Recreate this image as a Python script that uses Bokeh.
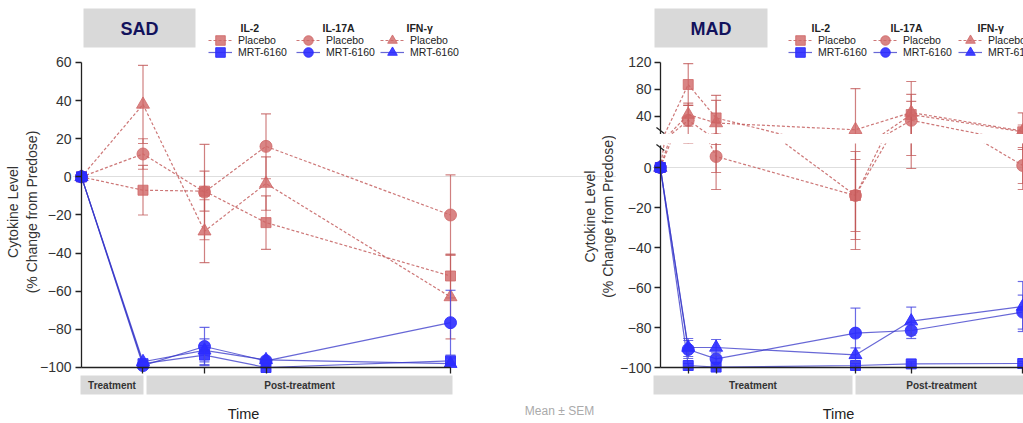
from bokeh.plotting import figure
from bokeh.layouts import row, column
from bokeh.models import (FixedTicker, LinearAxis, Range1d, BoxAnnotation, Label,
                          Legend, LegendItem, Arrow, Grid, CustomJSTickFormatter)
from bokeh.embed import file_html
from bokeh.resources import INLINE
import math

# ---------------- data ----------------
sad_days = [0, 1, 2, 3, 6]
sad_ticks = [1, 2, 3, 6]
sad_il2_pbo = [0, -7, -7.5, -24, -52]
sad_il2_pbo_sem = [0, 13, 10.5, 14, 11.5]
sad_il17a_pbo = [0, 12, -8, 16, -20]
sad_il17a_pbo_sem = [0, 8, 25, 17, 21]
sad_ifng_pbo = [0, 38, -28.5, -3.5, -63]
sad_ifng_pbo_sem = [0, 20.5, 16.5, 14, 22]
sad_il2_mrt = [0, -98, -93.5, -100, -96.5]
sad_il2_mrt_sem = [0, 1, 5, 0.5, 1.5]
sad_il17a_mrt = [0, -99, -89, -96.5, -76.5]
sad_il17a_mrt_sem = [0, 1, 10, 1.5, 17]
sad_ifng_mrt = [0, -97, -91, -96, -98]
sad_ifng_mrt_sem = [0, 1, 6, 1, 1]

mad_days = [0, 1, 2, 7, 9, 13]
mad_ticks = [1, 2, 7, 9, 13]
mad_il2_pbo = [0, 87, 37.5, -14, 42.5, 17]
mad_il2_pbo_sem = [0, 31, 26, 22, 30, 28]
mad_il17a_pbo = [0, 34, 5.5, -14, 34, 1]
mad_il17a_pbo_sem = [0, 22, 8, 18, 28, 9]
mad_ifng_pbo = [0, 42.5, 30, 20, 45.5, 18]
mad_ifng_pbo_sem = [0, 17, 41, 61, 46, 9]
mad_il2_mrt = [0, -99, -99.8, -99, -98.2, -98]
mad_il2_mrt_sem = [0, 1, 0.5, 1, 1, 1]
mad_il17a_mrt = [0, -91, -95.7, -82.8, -81.5, -72.3]
mad_il17a_mrt_sem = [0, 4.5, 3, 12.5, 4, 8.5]
mad_ifng_mrt = [0, -90, -90, -93.7, -76.8, -69.5]
mad_ifng_mrt_sem = [0, 4.5, 4, 3.5, 7, 12.5]

sad_y_ticks = [-100, -80, -60, -40, -20, 0, 20, 40, 60]
mad_low_ticks = [-100, -80, -60, -40, -20, 0]
mad_up_ticks = [40, 80, 120]

cytokines = ["IL-2", "IL-17A", "IFN-γ"]
groups = ["Placebo", "MRT-6160"]
markers = ["square", "circle", "triangle"]
marker_sizes = [10, 12, 13]

FONT = "Liberation Sans"
RED_FILL = "#d06666"
RED_LINE = "#c05555"
BLUE_FILL = "#2c2cff"
BLUE_LINE = "#3434c8"
NAVY = "#12125c"
GRAY_BOX = "#d9d9d9"
YLABEL = "Cytokine Level\n(% Change from Predose)"


def draw_series(p, days, mean, sem, marker, msize, placebo):
    ex = [d for d, s in zip(days, sem) if s > 0]
    lo = [m - s for m, s in zip(mean, sem) if s > 0]
    hi = [m + s for m, s in zip(mean, sem) if s > 0]
    if placebo:
        ecol, ealpha, lcol, lalpha, dash, fcol, falpha = RED_LINE, 0.75, RED_LINE, 0.8, "3 2", RED_FILL, 0.8
    else:
        ecol, ealpha, lcol, lalpha, dash, fcol, falpha = "#4646e0", 0.8, BLUE_LINE, 0.75, "solid", BLUE_FILL, 0.9
    p.segment(x0=ex, y0=lo, x1=ex, y1=hi, line_color=ecol, line_alpha=ealpha, line_width=1.2)
    p.scatter(x=ex + ex, y=lo + hi, marker="dash", size=10, line_color=ecol,
              line_alpha=ealpha, line_width=1.2)
    ln = p.line(x=days, y=mean, line_color=lcol, line_alpha=lalpha, line_width=1.2, line_dash=dash)
    sc = p.scatter(x=days, y=mean, marker=marker, size=msize, fill_color=fcol, fill_alpha=falpha,
                   line_color=fcol, line_alpha=falpha)
    return ln, sc


def draw_all(p, days, pbo, pbo_sem, mrt, mrt_sem):
    rends = {}
    for i in range(3):
        rends[(i, 0)] = draw_series(p, days, pbo[i], pbo_sem[i], markers[i], marker_sizes[i], True)
    for i in range(3):
        rends[(i, 1)] = draw_series(p, days, mrt[i], mrt_sem[i], markers[i], marker_sizes[i], False)
    return rends


def label_axis(ticks, bounds, axis_label=None):
    ax = LinearAxis(bounds=bounds, ticker=FixedTicker(ticks=ticks), axis_line_color=None,
                    major_tick_line_color=None, minor_tick_line_color=None,
                    major_tick_out=0, major_tick_in=0, minor_tick_out=0, minor_tick_in=0,
                    major_label_text_font=FONT, major_label_text_font_size="14px",
                    major_label_text_color="#333", major_label_standoff=1)
    if axis_label:
        ax.axis_label = axis_label
        ax.axis_label_text_font = FONT
        ax.axis_label_text_font_size = "14px"
        ax.axis_label_text_font_style = "normal"
        ax.axis_label_text_color = "#333"
        ax.axis_label_standoff = -3
    return ax


def rule_axis(ticks, loc, bounds):
    return LinearAxis(fixed_location=loc, bounds=bounds, ticker=FixedTicker(ticks=ticks),
                      axis_line_color="#222", axis_line_width=1.3,
                      major_tick_line_color="#222", major_tick_line_width=1.3,
                      major_tick_in=6, major_tick_out=0, minor_tick_line_color=None,
                      minor_tick_in=0, minor_tick_out=0, major_label_standoff=0,
                      formatter=CustomJSTickFormatter(code="return ''"))


def label(p, x, y, text, size, style="normal", color="#222", align="center", angle=0.0):
    p.add_layout(Label(x=x, y=y, x_units="canvas", y_units="canvas", text=text, text_font=FONT,
                       text_font_size=f"{size}px", text_font_style=style, text_color=color,
                       text_align=align, text_baseline="middle", angle=angle))


def box(p, x0, x1, y0, y1):
    p.add_layout(BoxAnnotation(left=x0, right=x1, top=y0, bottom=y1,
                               left_units="canvas", right_units="canvas",
                               top_units="canvas", bottom_units="canvas",
                               fill_color=GRAY_BOX, fill_alpha=1.0, line_color=None))


def legends(p, rends, centers, frame_left, frame_bottom, rows=(40, 52)):
    G = 24
    for i in range(3):
        for g in range(2):
            item = LegendItem(label=groups[g], renderers=list(rends[(i, g)]))
            loc = (centers[i] - G / 2 - frame_left, frame_bottom - (rows[g] + G / 2))
            p.add_layout(Legend(items=[item], location=loc, orientation="vertical",
                                padding=0, margin=0, spacing=0, glyph_width=G, glyph_height=G,
                                label_height=G, label_standoff=6, label_text_font=FONT,
                                label_text_font_size="10.5px", label_text_color="#222",
                                label_text_baseline="middle",
                                background_fill_alpha=0, border_line_alpha=0))


common = dict(output_backend="svg", toolbar_location=None, x_axis_type=None, y_axis_type=None,
              outline_line_color=None, background_fill_color="white", border_fill_color="white")

# ---------------- SAD (frame covers x 72..616, y 0..423) ----------------
sad = figure(width=616, height=423, x_range=Range1d(-0.1463, 8.699), y_range=Range1d(-129.38, 92.52),
             min_border_left=72, min_border_right=0, min_border_top=0, min_border_bottom=0,
             **common)
sad.add_layout(Grid(dimension=1, ticker=FixedTicker(ticks=[0]), bounds=(0, 6.1),
                    grid_line_color="#dedede", grid_line_width=1.2))
sad_r = draw_all(sad, sad_days, [sad_il2_pbo, sad_il17a_pbo, sad_ifng_pbo],
                 [sad_il2_pbo_sem, sad_il17a_pbo_sem, sad_ifng_pbo_sem],
                 [sad_il2_mrt, sad_il17a_mrt, sad_ifng_mrt],
                 [sad_il2_mrt_sem, sad_il17a_mrt_sem, sad_ifng_mrt_sem])
sad.add_layout(label_axis(sad_y_ticks, (-100, 60), YLABEL), "left")
sad.add_layout(rule_axis(sad_y_ticks, 0, (-100, 60)), "right")
sad.add_layout(rule_axis(sad_ticks, -100, (0, 6)), "above")

box(sad, 83, 195, 8, 47)
label(sad, 139, 28, "SAD", 18, "bold", NAVY)
for x, t in zip([240, 322, 406], cytokines):
    label(sad, x, 27, t, 10.5, "bold", "#222", "left")
legends(sad, sad_r, [220, 308, 392], 72, 423)
box(sad, 80, 143, 375, 394)
box(sad, 146, 452, 375, 394)
label(sad, 111.5, 384.5, "Treatment", 10, "bold", "#333")
label(sad, 299, 384.5, "Post-treatment", 10, "bold", "#333")
label(sad, 243, 413, "Time", 14.5, "normal", "#222")
label(sad, 559, 410, "Mean ± SEM", 12, "normal", "#aaaaaa")
# MAD y-axis title lives in this canvas (left of the MAD panel)
label(sad, 589, 216, "Cytokine Level", 14, "normal", "#333", "center", math.pi / 2)
label(sad, 607, 216, "(% Change from Predose)", 14, "normal", "#333", "center", math.pi / 2)

# ---------------- MAD (x from 616; upper gy 0..134, lower gy 134..423) ----------------
mad_x = Range1d(-0.2817, 13.028)
mad_up = figure(width=407, height=134, x_range=mad_x, y_range=Range1d(12.96, 211.5),
                min_border_left=29, min_border_right=0, min_border_top=0, min_border_bottom=0,
                **common)
mad_low = figure(width=407, height=289, x_range=mad_x, y_range=Range1d(-128, 12),
                 min_border_left=29, min_border_right=0, min_border_top=9, min_border_bottom=0,
                 **common)
mad_low.add_layout(Grid(dimension=1, ticker=FixedTicker(ticks=[0]), bounds=(0, 13.2),
                        grid_line_color="#dedede", grid_line_width=1.2))
mad_series = ([mad_il2_pbo, mad_il17a_pbo, mad_ifng_pbo],
              [mad_il2_pbo_sem, mad_il17a_pbo_sem, mad_ifng_pbo_sem],
              [mad_il2_mrt, mad_il17a_mrt, mad_ifng_mrt],
              [mad_il2_mrt_sem, mad_il17a_mrt_sem, mad_ifng_mrt_sem])
mad_r = draw_all(mad_up, mad_days, *mad_series)
draw_all(mad_low, mad_days, *mad_series)
mad_up.add_layout(label_axis(mad_up_ticks, (12.96, 120)), "left")
mad_up.add_layout(rule_axis(mad_up_ticks, 0, (12.96, 120)), "right")
mad_low.add_layout(label_axis(mad_low_ticks, (-100, 11)), "left")
mad_low.add_layout(rule_axis(mad_low_ticks, 0, (-100, 11)), "right")
mad_low.add_layout(rule_axis(mad_ticks, -100, (0, 13.2)), "above")
# axis break marks
mad_up.add_layout(Arrow(end=None, x_start=-0.141, y_start=23.3, x_end=0.141, y_end=14.4,
                        line_color="#222", line_width=1.2))
mad_low.add_layout(Arrow(end=None, x_start=-0.141, y_start=11.5, x_end=0.141, y_end=8.5,
                         line_color="#222", line_width=1.2))

box(mad_up, 38, 151, 8, 47)
label(mad_up, 94.5, 28, "MAD", 18, "bold", NAVY)
for x, t in zip([195, 274, 361], cytokines):
    label(mad_up, x, 27, t, 10.5, "bold", "#222", "left")
legends(mad_up, mad_r, [177, 262, 347], 29, 134)

box(mad_low, 37, 236, 241, 260)
box(mad_low, 239, 420, 241, 260)
label(mad_low, 136.5, 250.5, "Treatment", 10, "bold", "#333")
label(mad_low, 325, 250.5, "Post-treatment", 10, "bold", "#333")
label(mad_low, 222, 279, "Time", 14.5, "normal", "#222")

layout = row(sad, column(mad_up, mad_low, spacing=0), spacing=0)
open("out.html", "w").write(file_html(layout, INLINE))
